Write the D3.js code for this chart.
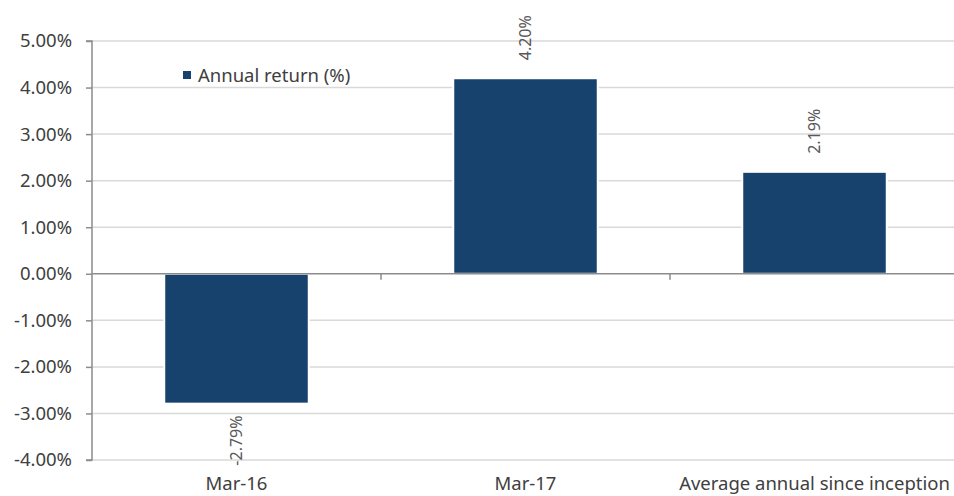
<!DOCTYPE html>
<html><head><meta charset="utf-8">
<script src="https://cdn.jsdelivr.net/npm/d3@7"></script>
<style>body{margin:0;background:#fff;}svg{display:block;font-family:"Noto Sans",sans-serif;}</style>
</head><body><svg id="c" width="954" height="496"></svg>
<script>
const categories = ["Mar-16", "Mar-17", "Average annual since inception"];
const values = [-2.79, 4.20, 2.19];
const yTicks = [5, 4, 3, 2, 1, 0, -1, -2, -3, -4];
const seriesName = "Annual return (%)";

(function () {
const svg = d3.select("#c");
const mLeft = 92, mRight = 959, mTop = 41, mBottom = 460;
const x = d3.scaleBand().domain(categories).range([mLeft, mRight]).paddingInner(0.5).paddingOuter(0.25);
const y = d3.scaleLinear().domain([-4, 5]).range([mBottom, mTop]);
const barColor = "#17426d", textColor = "#404040";
const fmt = d => d3.format(".2f")(d).replace("\u2212", "-") + "%";

// grid
svg.append("g").selectAll("line").data(yTicks.filter(d => d !== 0)).join("line")
  .attr("x1", mLeft).attr("x2", 954).attr("y1", d => y(d)).attr("y2", d => y(d))
  .attr("stroke", "#d9d9d9").attr("stroke-width", 1.5);

// bars
svg.append("g").selectAll("rect").data(values).join("rect")
  .attr("x", (d, i) => x(categories[i]))
  .attr("width", x.bandwidth())
  .attr("y", d => y(Math.max(0, d)))
  .attr("height", d => Math.abs(y(d) - y(0)))
  .attr("fill", barColor).attr("stroke", "#fff").attr("stroke-width", 2);

// y axis
const yAxis = d3.axisLeft(y).tickValues(yTicks).tickSize(6).tickPadding(14).tickFormat(fmt);
const ga = svg.append("g").attr("transform", `translate(${mLeft},0)`).call(yAxis);
ga.select(".domain").attr("stroke", "#8c8c8c").attr("stroke-width", 1.5).attr("d", `M-6,${mTop}H0V${mBottom}H-6`);
ga.selectAll(".tick line").attr("stroke", "#8c8c8c").attr("stroke-width", 1.5);
ga.selectAll(".tick text").attr("fill", textColor).style("font-size", "18.5px").style("font-family", "'Noto Sans',sans-serif");

// zero line
svg.append("line").attr("x1", mLeft).attr("x2", 954).attr("y1", y(0)).attr("y2", y(0))
  .attr("stroke", "#8c8c8c").attr("stroke-width", 1.5);
// category separator ticks
svg.append("g").selectAll("line").data(categories.slice(1)).join("line")
  .attr("x1", d => x(d) - x.bandwidth() * 0.5).attr("x2", d => x(d) - x.bandwidth() * 0.5)
  .attr("y1", y(0)).attr("y2", y(0) + 6)
  .attr("stroke", "#8c8c8c").attr("stroke-width", 1.5);

// x labels
svg.append("g").selectAll("text").data(categories).join("text")
  .attr("x", d => x(d) + x.bandwidth() / 2).attr("y", 490)
  .attr("text-anchor", "middle").attr("fill", textColor).style("font-size", "18.5px")
  .text(d => d);

// value labels
svg.append("g").selectAll("text").data(values).join("text")
  .attr("transform", (d, i) => {
    const cx = x(categories[i]) + x.bandwidth() / 2 + 5;
    const yy = d >= 0 ? y(d) - 18 : y(d) + 62;
    return `translate(${cx},${yy}) rotate(-90)`;
  })
  .attr("text-anchor", "start").attr("fill", "#595959").style("font-size", "16px")
  .text(fmt);

// legend
svg.append("rect").attr("x", 183).attr("y", 71).attr("width", 8).attr("height", 8).attr("fill", barColor);
svg.append("text").attr("x", 198).attr("y", 82).attr("fill", textColor).style("font-size", "18.5px").text(seriesName);
})();
</script></body></html>
